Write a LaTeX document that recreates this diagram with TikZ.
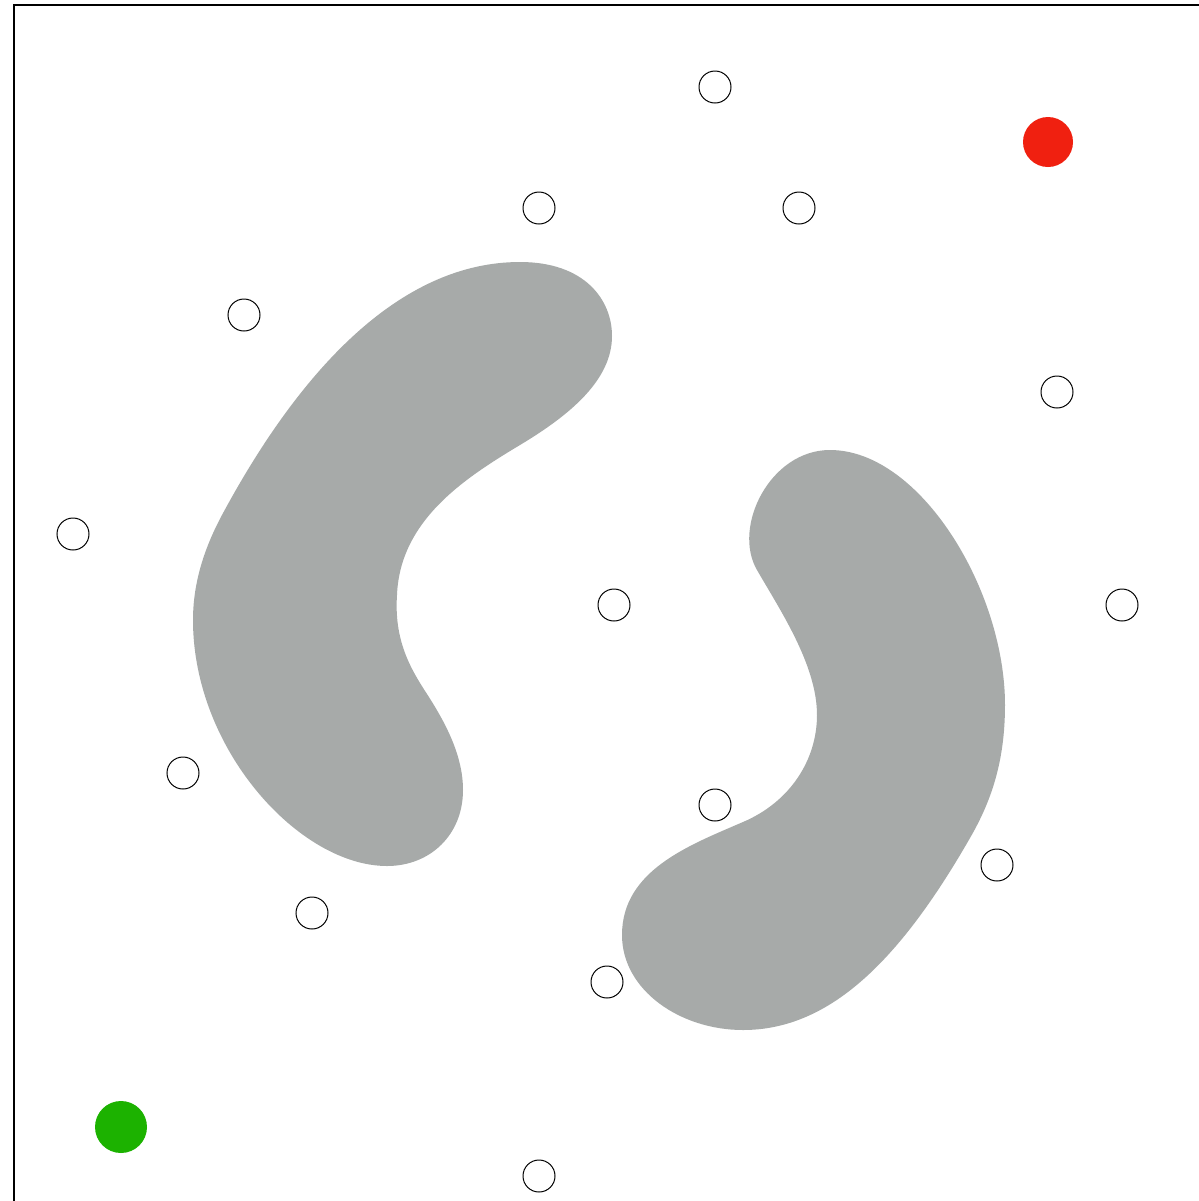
\documentclass[tikz,border=0pt]{standalone}
\definecolor{blobgray}{RGB}{167,170,169}
\definecolor{goalred}{RGB}{240,32,16}
\definecolor{startgreen}{RGB}{28,178,0}
\begin{document}
\begin{tikzpicture}[x=0.5pt,y=-0.5pt,
  sample/.style={circle,draw=black,line width=0.5pt,fill=white,minimum size=16pt,inner sep=0pt},
  goal/.style={circle,fill=goalred,minimum size=25pt,inner sep=0pt},
  start/.style={circle,fill=startgreen,minimum size=26pt,inner sep=0pt},
  obstacle/.style={fill=blobgray,draw=none}]
\useasboundingbox (0,0) rectangle (1199,1201);
\fill[white] (0,0) rectangle (1199,1201);
% frame
\draw[line width=1pt] (14,1210) -- (14,5) -- (1210,5);
% obstacles
\path[obstacle] (520,262)
  .. controls (585,262) and (612,300) .. (612,336)
  .. controls (612,380) and (570,415) .. (520,445)
  .. controls (465,478) and (400,520) .. (397,595)
  .. controls (394,640) and (410,668) .. (427,694)
  .. controls (445,722) and (463,755) .. (463,790)
  .. controls (463,835) and (430,866) .. (387,866)
  .. controls (300,866) and (193,750) .. (193,620)
  .. controls (193,580) and (206,545) .. (222,515)
  .. controls (300,370) and (400,262) .. (520,262) -- cycle;
\path[obstacle] (830,450)
  .. controls (920,450) and (1005,590) .. (1005,705)
  .. controls (1005,760) and (992,800) .. (970,838)
  .. controls (900,960) and (830,1030) .. (743,1030)
  .. controls (680,1030) and (622,990) .. (622,935)
  .. controls (622,870) and (690,845) .. (743,822)
  .. controls (790,802) and (817,760) .. (817,715)
  .. controls (817,665) and (780,610) .. (757,570)
  .. controls (732,527) and (770,450) .. (830,450) -- cycle;
% samples
\node[sample] (s1) at (715,87) {};
\node[sample] (s2) at (539,208) {};
\node[sample] (s3) at (799,208) {};
\node[sample] (s4) at (244,315) {};
\node[sample] (s5) at (1057,392) {};
\node[sample] (s6) at (73,534) {};
\node[sample] (s7) at (614,605) {};
\node[sample] (s8) at (1122,605) {};
\node[sample] (s9) at (183,773) {};
\node[sample] (s10) at (715,805) {};
\node[sample] (s11) at (997,865) {};
\node[sample] (s12) at (312,913) {};
\node[sample] (s13) at (607,982) {};
\node[sample] (s14) at (539,1176) {};
% goal and start
\node[goal] (goal) at (1048,142) {};
\node[start] (start) at (121,1127) {};
\end{tikzpicture}
\end{document}
